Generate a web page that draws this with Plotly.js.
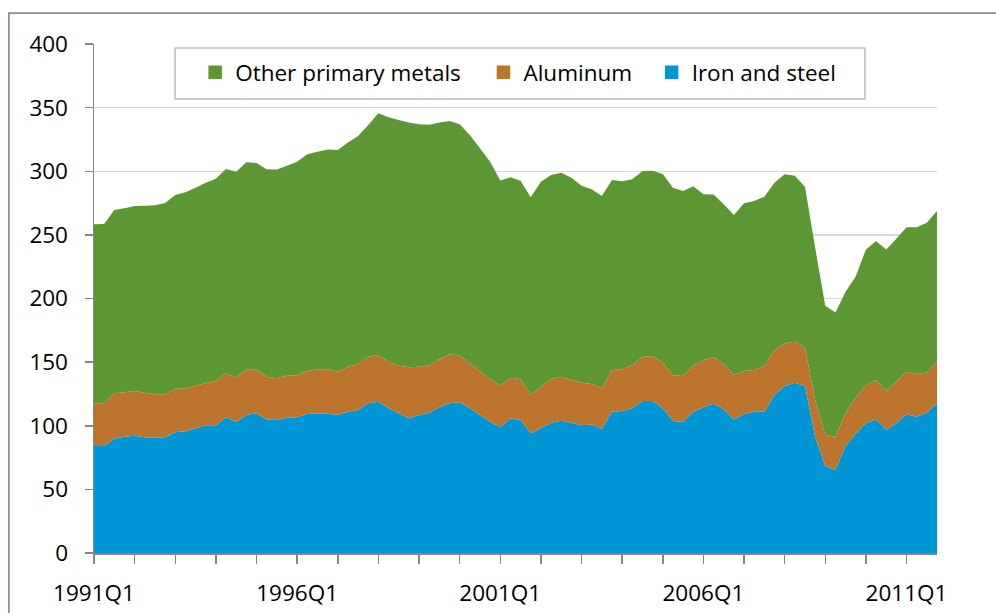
<!DOCTYPE html>
<html>
<head>
<meta charset="utf-8">
<script src="https://cdn.plot.ly/plotly-3.0.1.min.js"></script>
<style>html,body{margin:0;padding:0;background:#fff;}#chart{width:996px;height:613px;}</style>
</head>
<body>
<div id="chart"></div>
<script>
const quarters = [
"1991Q1","1991Q2","1991Q3","1991Q4","1992Q1","1992Q2","1992Q3","1992Q4",
"1993Q1","1993Q2","1993Q3","1993Q4","1994Q1","1994Q2","1994Q3","1994Q4",
"1995Q1","1995Q2","1995Q3","1995Q4","1996Q1","1996Q2","1996Q3","1996Q4",
"1997Q1","1997Q2","1997Q3","1997Q4","1998Q1","1998Q2","1998Q3","1998Q4",
"1999Q1","1999Q2","1999Q3","1999Q4","2000Q1","2000Q2","2000Q3","2000Q4",
"2001Q1","2001Q2","2001Q3","2001Q4","2002Q1","2002Q2","2002Q3","2002Q4",
"2003Q1","2003Q2","2003Q3","2003Q4","2004Q1","2004Q2","2004Q3","2004Q4",
"2005Q1","2005Q2","2005Q3","2005Q4","2006Q1","2006Q2","2006Q3","2006Q4",
"2007Q1","2007Q2","2007Q3","2007Q4","2008Q1","2008Q2","2008Q3","2008Q4",
"2009Q1","2009Q2","2009Q3","2009Q4","2010Q1","2010Q2","2010Q3","2010Q4",
"2011Q1","2011Q2","2011Q3","2011Q4"];

const ironSteel = [
84.1,84.1,89.8,91.4,92.2,90.9,90.6,90.9,94.8,95.6,98.0,100.0,100.3,106.6,102.9,108.4,109.8,105.0,104.5,106.3,
106.6,109.2,109.8,109.5,108.7,111.0,112.4,117.6,118.9,113.7,109.8,105.8,108.4,110.3,114.5,117.6,118.4,113.7,108.4,103.2,
99.0,105.6,104.5,94.0,98.0,102.4,104.0,102.4,100.3,101.0,97.4,111.0,111.5,113.7,119.4,119.4,113.7,103.7,103.2,111.0,
114.5,117.3,112.9,105.0,109.2,111.0,111.0,124.2,131.2,133.8,131.2,91.4,68.4,65.2,84.1,94.0,101.9,105.0,96.7,101.9,
109.0,107.1,110.3,117.6];

const aluminum = [
33.5,33.5,35.7,34.9,35.1,35.1,34.1,33.8,34.3,33.8,33.5,33.6,34.9,34.6,34.9,36.0,34.6,33.6,32.8,33.0,
33.0,34.1,34.6,34.9,33.8,35.4,36.1,36.7,36.7,36.6,37.4,40.1,38.0,37.2,37.7,38.5,36.9,35.4,34.6,33.5,
32.2,32.2,32.0,30.2,32.7,34.3,34.6,33.6,33.5,31.8,32.0,32.8,32.9,33.8,34.9,35.4,35.9,35.9,35.9,36.2,
36.9,36.7,35.6,34.9,33.8,32.8,36.0,35.3,33.6,32.3,30.4,28.8,24.3,26.2,26.2,28.4,29.9,31.0,30.9,32.7,
33.5,33.6,31.4,32.8];

const otherPrimary = [
140.7,141.0,144.0,144.6,145.4,146.9,148.5,150.3,152.2,154.0,155.6,157.4,159.0,160.6,161.9,162.6,162.1,162.9,164.0,165.1,
167.9,170.0,171.0,172.6,174.2,176.1,179.2,182.0,189.9,192.1,193.1,192.5,190.5,189.1,186.2,183.4,181.6,179.4,175.0,170.8,
161.5,157.4,156.1,155.3,161.1,160.3,160.3,158.9,154.9,153.0,151.2,149.3,147.7,146.2,145.9,145.6,148.2,147.5,145.4,141.0,
130.5,127.8,125.5,125.7,131.8,132.8,133.0,131.5,132.8,130.4,126.3,119.8,101.7,97.5,95.1,94.8,106.8,109.2,111.0,112.4,
113.5,115.3,117.9,118.4];

const seriesNames = ["Iron and steel", "Aluminum", "Other primary metals"];
const seriesColors = ["#0096d6", "#bd752d", "#5d9733"];
const yTicks = [0, 50, 100, 150, 200, 250, 300, 350, 400];

const xTickVals = quarters.filter((q, i) => i % 4 === 0);
const xTickText = quarters.map((q, i) => (i % 20 === 0 ? q : "")).filter((q, i) => i % 4 === 0);

const FONT = "Open Sans, Lato, sans-serif";
const FS = 22.5;

const seriesValues = [ironSteel, aluminum, otherPrimary];
const traces = [];
seriesValues.forEach((vals, k) => {
  traces.push({
    type: "scatter", x: quarters, y: vals, stackgroup: "one", mode: "none",
    fillcolor: seriesColors[k], name: seriesNames[k], showlegend: false,
    hoverinfo: "x+y+name"
  });
});
// legend swatches: Other primary metals, Aluminum, Iron and steel (each in its own legend slot)
const legendIds = ["legend", "legend2", "legend3"];
[2, 1, 0].forEach((k, j) => {
  traces.push({
    type: "bar", x: [null], y: [null], name: seriesNames[k], legend: legendIds[j],
    marker: {color: seriesColors[k], line: {color: seriesColors[k], width: 1.5}},
    showlegend: true, hoverinfo: "skip"
  });
});

function legendAt(xp) {
  return {
    orientation: "h", x: xp, y: 0.9862, xanchor: "left", yanchor: "top",
    bgcolor: "rgba(0,0,0,0)", borderwidth: 0,
    font: {family: FONT, size: FS, color: "#000000"}
  };
}

const layout = {
  width: 996, height: 613,
  margin: {l: 94, r: 59, t: 44, b: 60},
  paper_bgcolor: "#ffffff", plot_bgcolor: "#ffffff",
  font: {family: FONT, size: FS, color: "#000000"},
  showlegend: true,
  legend: legendAt(0.1200),
  legend2: legendAt(0.4620),
  legend3: legendAt(0.6615),
  xaxis: {
    type: "category", range: [0, quarters.length - 1], fixedrange: true,
    tickmode: "array", tickvals: xTickVals, ticktext: xTickText,
    ticks: "outside", ticklen: 9, tickwidth: 1.5, tickcolor: "#868686",
    showline: true, linecolor: "#868686", linewidth: 1.5,
    showgrid: false, zeroline: false, tickangle: 0,
    ticklabelstandoff: 10,
    tickfont: {family: FONT, size: FS, color: "#000000"}
  },
  yaxis: {
    range: [0, 400], tickmode: "array", tickvals: yTicks,
    ticks: "outside", ticklen: 8, tickwidth: 1.5, tickcolor: "#868686",
    showline: true, linecolor: "#868686", linewidth: 1.5,
    showgrid: true, gridcolor: "#d9d9d9", gridwidth: 1.5, zeroline: false,
    ticklabelstandoff: 12,
    tickfont: {family: FONT, size: FS, color: "#000000"}
  },
  shapes: [
    {
      type: "rect", xref: "paper", yref: "paper",
      x0: -0.101, x1: 1.3, y0: -0.3, y1: 1.0609,
      line: {color: "#8c8c8c", width: 1.75}, fillcolor: "rgba(0,0,0,0)", layer: "below"
    },
    {
      type: "rect", xref: "paper", yref: "paper",
      x0: 0.0962, x1: 0.9145, y0: 0.8919, y1: 0.9921,
      line: {color: "#bfbfbf", width: 1.5}, fillcolor: "#ffffff", layer: "above"
    }
  ]
};

Plotly.newPlot("chart", traces, layout, {displayModeBar: false, staticPlot: true});
</script>
</body>
</html>
